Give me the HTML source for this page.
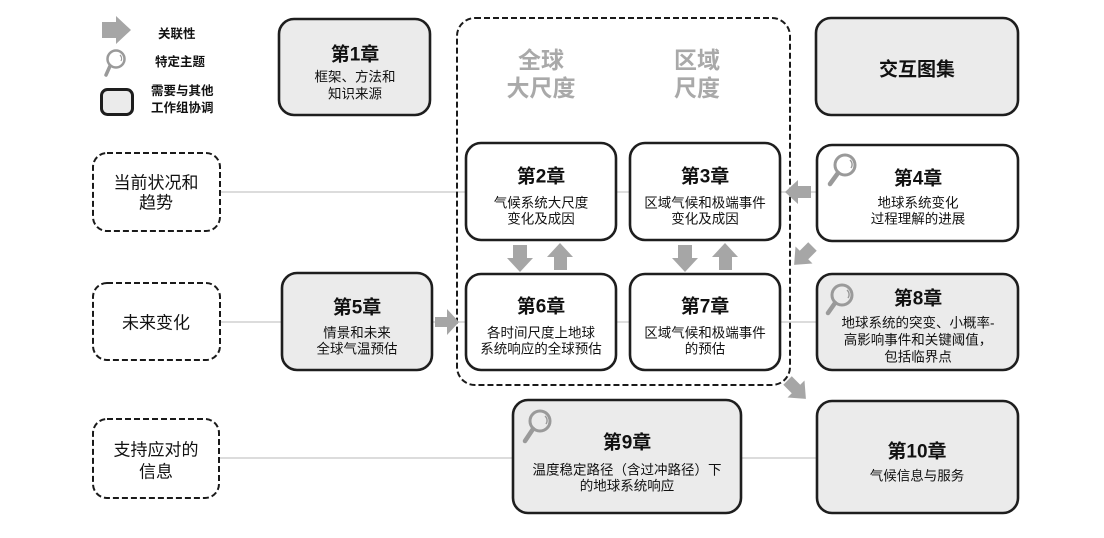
<!DOCTYPE html>
<html><head><meta charset="utf-8"><style>
html,body{margin:0;padding:0;background:#fff;}
svg{display:block;}
text{font-family:"Liberation Sans","Noto Sans CJK SC",sans-serif;fill:#111;}
.t{font-size:19px;font-weight:bold;}
.s{font-size:13.5px;}
.l{font-size:17px;}
.g{font-size:23px;font-weight:bold;fill:#a9a9a9;}
.lg{font-size:12.5px;font-weight:600;}
</style></head><body>
<svg width="1104" height="538" viewBox="0 0 1104 538" xmlns="http://www.w3.org/2000/svg">
<!-- connector lines -->
<g stroke="#c8c8c8" stroke-width="1.2" fill="none">
<line x1="220" y1="192" x2="466" y2="192"/>
<line x1="616" y1="192" x2="630" y2="192"/>
<line x1="780" y1="192" x2="817" y2="192"/>
<line x1="220" y1="322" x2="282" y2="322"/>
<line x1="432" y1="322" x2="466" y2="322"/>
<line x1="616" y1="322" x2="630" y2="322"/>
<line x1="780" y1="322" x2="817" y2="322"/>
<line x1="219" y1="458" x2="513" y2="458"/>
<line x1="741" y1="458" x2="817" y2="458"/>
</g>

<!-- big dashed container -->
<rect x="457" y="18" width="333" height="367" rx="18" fill="none" stroke="#1a1a1a" stroke-width="2" stroke-dasharray="6,3"/>

<!-- left dashed boxes -->
<g fill="#fff" stroke="#1a1a1a" stroke-width="2" stroke-dasharray="6,3">
<rect x="93" y="153" width="127" height="78" rx="14"/>
<rect x="93" y="283" width="127" height="77" rx="14"/>
<rect x="93" y="419" width="126" height="79" rx="14"/>
</g>

<!-- solid boxes -->
<g stroke="#1e1e1e" stroke-width="2.6">
<rect x="279" y="19" width="151" height="96" rx="15" fill="#ebebeb"/>
<rect x="816" y="18" width="202" height="97" rx="15" fill="#ebebeb"/>
<rect x="466" y="143" width="150" height="97" rx="15" fill="#fff"/>
<rect x="630" y="143" width="150" height="97" rx="15" fill="#fff"/>
<rect x="817" y="145" width="201" height="96" rx="15" fill="#fff"/>
<rect x="282" y="273" width="150" height="97" rx="15" fill="#ebebeb"/>
<rect x="466" y="274" width="150" height="96" rx="15" fill="#fff"/>
<rect x="630" y="274" width="150" height="96" rx="15" fill="#fff"/>
<rect x="817" y="274" width="201" height="96" rx="15" fill="#ebebeb"/>
<rect x="513" y="400" width="228" height="113" rx="15" fill="#ebebeb"/>
<rect x="817" y="401" width="201" height="112" rx="15" fill="#ebebeb"/>
</g>

<!-- arrows -->
<g fill="#a6a6a6">
<polygon points="102,22 116,22 116,16 131,30 116,44 116,38 102,38"/>
<polygon points="435,317 447,317 447,309 459,322 447,335 447,327 435,327"/>
<polygon points="513,245 527,245 527,258 533,258 520,272 507,258 513,258"/>
<polygon points="554,270 567,270 567,257 573,257 560,243 547,257 554,257"/>
<polygon points="678,245 692,245 692,258 698,258 685,272 672,258 678,258"/>
<polygon points="719,270 732,270 732,257 738,257 725,243 712,257 719,257"/>
<polygon points="811,186 798,186 798,180 785,192 798,204 798,198 811,198"/>
<g transform="translate(804,255) rotate(-45)">
<polygon points="12,-6 0,-6 0,-12 -14,0 0,12 0,6 12,6"/>
</g>
<g transform="translate(796,389) rotate(45)">
<polygon points="-12,-6 0,-6 0,-12 14,0 0,12 0,6 -12,6"/>
</g>
</g>

<!-- legend icons -->
<rect x="101.5" y="89.5" width="31" height="25" rx="6" fill="#ebebeb" stroke="#1e1e1e" stroke-width="3"/>
<g fill="none" stroke="#9a9a9a">
<circle cx="116" cy="59" r="8.5" stroke-width="2.5"/>
<line x1="110" y1="66" x2="106" y2="75" stroke-width="3.5" stroke-linecap="round"/>
<path d="M120,55 A5,5 0 0 1 121,61" stroke-width="1.2"/>
<circle cx="845" cy="165" r="10" stroke-width="3"/>
<line x1="838" y1="173" x2="830" y2="184" stroke-width="4.5" stroke-linecap="round"/>
<path d="M850,160 A6,6 0 0 1 851,168" stroke-width="1.4"/>
<circle cx="842" cy="295" r="10" stroke-width="3"/>
<line x1="835" y1="303" x2="828" y2="313" stroke-width="4.5" stroke-linecap="round"/>
<path d="M847,290 A6,6 0 0 1 848,298" stroke-width="1.4"/>
<circle cx="540" cy="421" r="10" stroke-width="3"/>
<line x1="533" y1="429" x2="525" y2="441" stroke-width="4.5" stroke-linecap="round"/>
<path d="M545,416 A6,6 0 0 1 546,424" stroke-width="1.4"/>
</g>

<!-- legend text -->
<g dominant-baseline="central">
<text class="lg" x="158" y="34">关联性</text>
<text class="lg" x="155" y="62">特定主题</text>
<text class="lg" x="151" y="91">需要与其他</text>
<text class="lg" x="151" y="108">工作组协调</text>
</g>

<g text-anchor="middle" dominant-baseline="central">
<text class="g" x="541" y="60">全球</text>
<text class="g" x="541" y="88">大尺度</text>
<text class="g" x="697" y="60">区域</text>
<text class="g" x="697" y="88">尺度</text>

<text class="l" x="156" y="183">当前状况和</text>
<text class="l" x="156" y="203">趋势</text>
<text class="l" x="156" y="323">未来变化</text>
<text class="l" x="156" y="450">支持应对的</text>
<text class="l" x="156" y="472">信息</text>

<text class="t" x="355" y="55">第1章</text>
<text class="s" x="355" y="77">框架、方法和</text>
<text class="s" x="355" y="94">知识来源</text>
<text class="t" x="917" y="70">交互图集</text>
<text class="t" x="541" y="177">第2章</text>
<text class="s" x="541" y="203">气候系统大尺度</text>
<text class="s" x="541" y="219">变化及成因</text>
<text class="t" x="705" y="177">第3章</text>
<text class="s" x="705" y="203">区域气候和极端事件</text>
<text class="s" x="705" y="219">变化及成因</text>
<text class="t" x="918" y="179">第4章</text>
<text class="s" x="918" y="203">地球系统变化</text>
<text class="s" x="918" y="219">过程理解的进展</text>
<text class="t" x="357" y="308">第5章</text>
<text class="s" x="357" y="333">情景和未来</text>
<text class="s" x="357" y="349">全球气温预估</text>
<text class="t" x="541" y="307">第6章</text>
<text class="s" x="541" y="333">各时间尺度上地球</text>
<text class="s" x="541" y="349">系统响应的全球预估</text>
<text class="t" x="705" y="307">第7章</text>
<text class="s" x="705" y="333">区域气候和极端事件</text>
<text class="s" x="705" y="349">的预估</text>
<text class="t" x="918" y="299">第8章</text>
<text class="s" x="918" y="323">地球系统的突变、小概率-</text>
<text class="s" x="918" y="340">高影响事件和关键阈值，</text>
<text class="s" x="918" y="357">包括临界点</text>
<text class="t" x="627" y="443">第9章</text>
<text class="s" x="627" y="470">温度稳定路径（含过冲路径）下</text>
<text class="s" x="627" y="486">的地球系统响应</text>
<text class="t" x="917" y="452">第10章</text>
<text class="s" x="917" y="476">气候信息与服务</text>
</g>
</svg>
</body></html>
